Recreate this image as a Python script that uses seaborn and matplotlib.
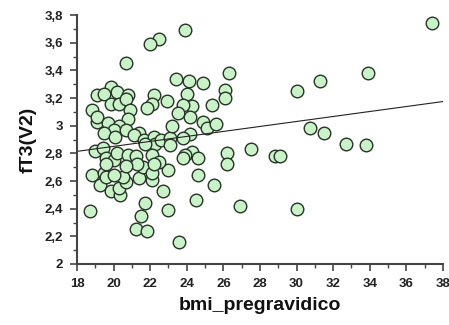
import matplotlib
matplotlib.use("Agg")
import matplotlib.pyplot as plt
import seaborn as sns
import pandas as pd
import numpy as np
from matplotlib.ticker import MultipleLocator, FuncFormatter

bmi = [37.4, 23.9, 22.5, 22.0, 20.7, 23.4, 24.1, 24.9, 26.3, 26.1, 30.0, 31.3, 33.9,
       26.1, 25.4, 24.3, 24.0, 23.8, 24.2, 24.9, 25.1, 25.6, 24.2, 23.8, 30.75, 31.5,
       32.7, 33.8, 26.2, 27.5, 28.8, 29.1, 24.3, 23.9, 24.6, 26.2, 24.6, 25.5, 24.5,
       26.9, 30.0, 23.6, 18.7, 18.8, 19.25, 19.85, 20.35, 20.3, 20.7, 19.5, 19.6, 20.5,
       21.4, 22.1, 22.7, 21.7, 21.5, 21.2, 21.85, 23.0, 22.96, 21.6, 22.1,
       19.85, 20.2, 19.1, 19.5, 20.8, 19.85, 20.3, 20.7, 22.2, 22.1, 21.8, 22.9, 23.5,
       18.8, 20.9, 19.1, 19.1, 19.7, 20.8, 20.3, 20.0, 19.5, 20.1, 20.7, 21.4, 21.1,
       21.65, 22.2, 22.25, 22.6, 23.1, 23.2, 23.1, 21.7, 19.0, 19.4, 19.6, 20.0, 20.2,
       20.8, 21.2, 21.3, 20.7, 22.1, 22.5, 22.2, 20.0, 23.8, 19.6]
ft3 = [3.74, 3.69, 3.63, 3.59, 3.45, 3.34, 3.32, 3.31, 3.38, 3.26, 3.25, 3.32, 3.38,
       3.20, 3.15, 3.14, 3.23, 3.15, 3.06, 3.03, 2.98, 3.01, 2.94, 2.91, 2.98, 2.95,
       2.87, 2.86, 2.80, 2.83, 2.78, 2.78, 2.81, 2.79, 2.77, 2.72, 2.64, 2.57, 2.46,
       2.42, 2.40, 2.16, 2.38, 2.64, 2.57, 2.53, 2.50, 2.55, 2.59, 2.66, 2.63, 2.63,
       2.62, 2.61, 2.53, 2.44, 2.35, 2.25, 2.24, 2.39, 2.68, 2.70, 2.66,
       3.28, 3.24, 3.22, 3.23, 3.22, 3.16, 3.16, 3.19, 3.22, 3.16, 3.13, 3.18, 3.09,
       3.11, 3.11, 3.03, 3.06, 3.02, 3.05, 3.00, 2.97, 2.95, 2.92, 2.97, 2.95, 2.93,
       2.90, 2.92, 2.87, 2.90, 2.91, 3.00, 2.86, 2.87, 2.82, 2.84, 2.77, 2.75, 2.80,
       2.79, 2.78, 2.72, 2.71, 2.79, 2.74, 2.72, 2.64, 2.77, 2.72]

x_ticks = [18, 20, 22, 24, 26, 28, 30, 32, 34, 36, 38]
y_ticks = [2.0, 2.2, 2.4, 2.6, 2.8, 3.0, 3.2, 3.4, 3.6, 3.8]

df = pd.DataFrame({"bmi_pregravidico": bmi, "fT3(V2)": ft3})

sns.set_style("ticks")
plt.rcParams["font.family"] = ["Liberation Sans", "DejaVu Sans"]

fig = plt.figure(figsize=(4.49, 3.25), dpi=100)
ax = fig.add_axes([0.1715, 0.1877, 0.815, 0.766])
ax.set_xlim(18, 38)
ax.set_ylim(2, 3.8)

sns.regplot(data=df, x="bmi_pregravidico", y="fT3(V2)", ax=ax, ci=None, truncate=False,
            scatter_kws=dict(s=82, facecolor="#c9f2c9", edgecolor="#263326", linewidths=1.0, alpha=1),
            line_kws=dict(color="#222222", lw=0.8))
ax.set_xlim(18, 38)
ax.set_ylim(2, 3.8)

ax.set_xticks(x_ticks)
ax.set_yticks(y_ticks)
ax.xaxis.set_minor_locator(MultipleLocator(1))
ax.yaxis.set_minor_locator(MultipleLocator(0.1))

def fmt(v, pos):
    s = ("%.1f" % v).rstrip("0").rstrip(".")
    return s.replace(".", ",")
ax.yaxis.set_major_formatter(FuncFormatter(fmt))
ax.xaxis.set_major_formatter(FuncFormatter(fmt))

for lab in ax.get_xticklabels() + ax.get_yticklabels():
    lab.set_fontweight("bold")
    lab.set_fontsize(9.5)
    lab.set_color("#222222")

ax.tick_params(which="major", length=5, width=1.2, color="#444444", pad=5)
ax.tick_params(which="minor", length=3, width=1.0, color="#444444")
sns.despine(ax=ax)
for sp in ["left", "bottom"]:
    ax.spines[sp].set_linewidth(1.5)
    ax.spines[sp].set_color("#444444")

ax.set_xlabel("bmi_pregravidico", fontsize=14, fontweight="bold", labelpad=5, color="#111111")
ax.set_ylabel("fT3(V2)", fontsize=14, fontweight="bold", labelpad=6, color="#111111")

fig.savefig("out.png", dpi=100)
